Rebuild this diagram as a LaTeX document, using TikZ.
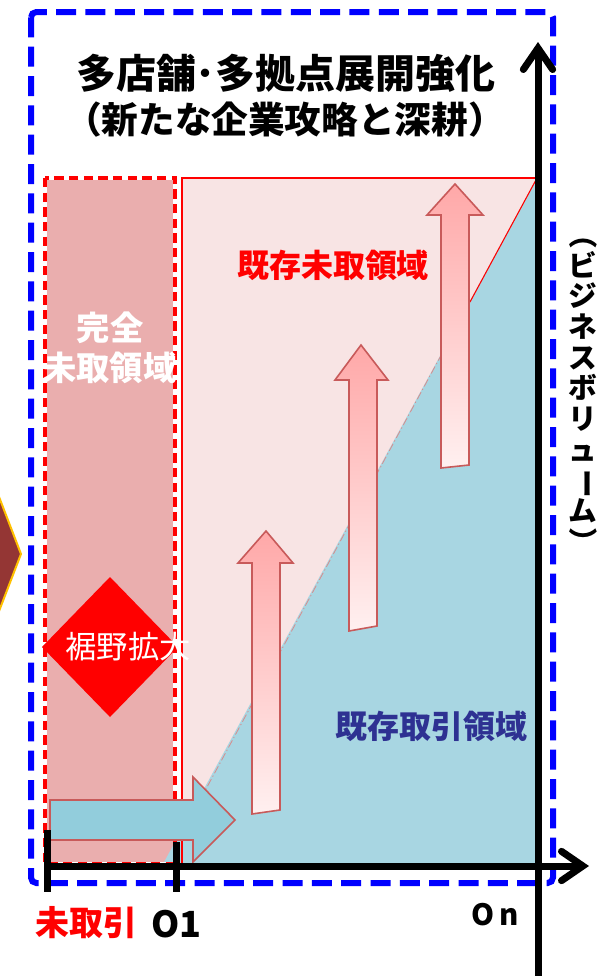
\documentclass[tikz,border=0pt]{standalone}
\usepackage{fontspec}
\newfontfamily\jp{Noto Sans CJK JP}
\usetikzlibrary{arrows.meta}
\definecolor{frameblue}{RGB}{0,0,255}
\definecolor{colpink}{RGB}{234,174,174}
\definecolor{mainpink}{RGB}{248,228,228}
\definecolor{tri}{RGB}{168,214,226}
\definecolor{blockblue}{RGB}{146,205,220}
\definecolor{arrowedge}{RGB}{200,90,90}
\definecolor{uptop}{RGB}{255,168,168}
\definecolor{upbot}{RGB}{255,240,240}
\definecolor{navy}{RGB}{46,49,146}
\definecolor{brown}{RGB}{148,54,52}
\definecolor{gold}{RGB}{255,192,0}
\tikzset{
  axis/.style={line width=5.25pt, black},
  axisarrow/.style={axis, -{Straight Barb[length=16pt,width=22pt,line cap=round]}},
  uparrow/.style={draw=arrowedge, line width=1.2pt, top color=uptop, bottom color=upbot},
  lbl/.style={inner sep=0, font=\jp\bfseries},
}
\begin{document}
\begin{tikzpicture}[x=0.75pt,y=-0.75pt]
\useasboundingbox (0,0) rectangle (608,976);
% brown shape at left edge
\draw[fill=brown, draw=gold, line width=1.5pt] (-4,489) -- (21,554) -- (-4,619) -- cycle;
% left column
\fill[colpink] (45,178) rectangle (175,864);
% main region
\fill[mainpink] (181,178) rectangle (537,864);
% blue triangle
\fill[tri] (163,864) -- (537,178) -- (537,864) -- cycle;
\draw[red, line width=0.8pt] (537,178) -- (470,302);
\draw[arrowedge!70, line width=0.6pt, dash pattern=on 6pt off 2pt on 1pt off 2pt] (470,302) -- (200,800);
% borders
\draw[white, line width=3.5pt] (45,178) rectangle (175,864);
\draw[red, line width=2.5pt, dash pattern=on 7pt off 4pt] (45,178) rectangle (175,864);
\draw[red, line width=2pt] (182,178) rectangle (537,864);
% texts
\node[lbl, text=white, font=\jp\bfseries\fontsize{25}{30}\selectfont, align=center] (full) at (110,348) {完全\\未取領域};
\node[lbl, text=red, font=\jp\bfseries\fontsize{24}{28}\selectfont] (kizonmi) at (333,265) {既存未取領域};
\node[lbl, text=navy, font=\jp\bfseries\fontsize{24}{28}\selectfont] (kizon) at (431,726) {既存取引領域};
% up arrows
\draw[uparrow] (252,814) -- (252,563) -- (238,563) -- (266,531) -- (293,563) -- (280,563) -- (280,810) -- cycle;
\draw[uparrow] (349,631) -- (349,380) -- (335,380) -- (361,345) -- (388,380) -- (377,380) -- (377,626) -- cycle;
\draw[uparrow] (441,468) -- (441,215) -- (427,215) -- (455,184) -- (483,215) -- (469,215) -- (469,465) -- cycle;
% diamond
\fill[red] (42,647) -- (110,577) -- (178,647) -- (110,717) -- cycle;
\node[inner sep=0, text=white, font=\jp\fontsize{23.5}{28}\selectfont] (susono) at (128,647) {裾野拡大};
% block arrow
\draw[fill=blockblue, draw=arrowedge, line width=1.2pt] (50,800) -- (193,800) -- (193,777) -- (235,820) -- (193,862) -- (193,840) -- (50,840) -- cycle;
% title
\node[lbl, font=\jp\bfseries\fontsize{30}{34}\selectfont] (t1) at (286,73) {多店舗･多拠点展開強化};
\node[lbl, font=\jp\bfseries\fontsize{27.5}{32}\selectfont] (t2) at (285,120) {（新たな企業攻略と深耕）};
% frame
\draw[frameblue, line width=4.5pt, dash pattern=on 15pt off 7pt, rounded corners=4pt] (31,12) rectangle (553,883);
% axes
\coordinate (xa) at (45,866);
\coordinate (xb) at (589,866);
\coordinate (ya) at (538,976);
\coordinate (yb) at (538,42);
\coordinate (t1a) at (47,830);
\coordinate (t1b) at (47,892);
\coordinate (t2a) at (176,842);
\coordinate (t2b) at (176,892);
\draw[axisarrow] (xa) -- (xb);
\draw[axisarrow] (ya) -- (yb);
\draw[axis] (t1a) -- (t1b);
\draw[axis] (t2a) -- (t2b);
% axis labels
\node[lbl, text=red, font=\jp\bfseries\fontsize{25.5}{30}\selectfont] (mitori) at (87,923) {未取引};
\node[lbl, anchor=west, font=\jp\bfseries\fontsize{27}{30}\selectfont] (o1) at (151,924) {O1};
\node[lbl, font=\jp\bfseries\fontsize{22}{26}\selectfont] (on) at (495,915) {O\hspace{4pt}n};
\node[lbl, font=\jp\bfseries\fontsize{21.5}{23}\selectfont, align=center] (vt) at (583,388) {\rotatebox[origin=c]{-90}{（}\\ビ\\ジ\\ネ\\ス\\ボ\\リ\\ュ\\\rotatebox[origin=c]{-90}{ー}\\ム\\\rotatebox[origin=c]{-90}{）}};
\end{tikzpicture}
\end{document}
